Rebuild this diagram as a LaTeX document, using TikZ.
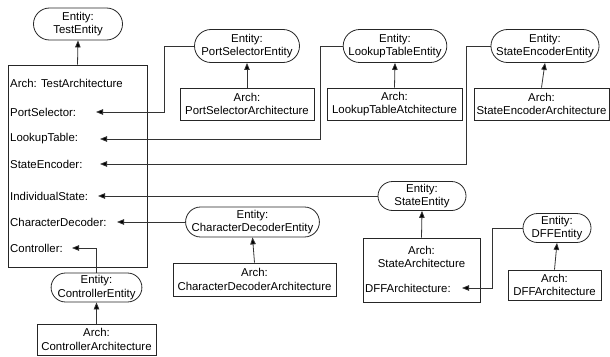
\documentclass[tikz,border=0pt]{standalone}
\usepackage{fontspec}
\setmainfont{Liberation Sans}
\usetikzlibrary{shapes.misc,arrows.meta}
\begin{document}
\begin{tikzpicture}[x=1pt,y=-1pt,
  every node/.style={font=\fontsize{11.4}{13.5}\selectfont, align=center, inner sep=0pt, text=black},
  ent/.style={draw=black!85, line width=0.8pt, rounded rectangle},
  archbox/.style={draw=black!85, line width=0.8pt, rectangle},
  lbl/.style={anchor=west},
  arr/.style={draw=black!80, line width=0.8pt, -{Triangle[length=7pt,width=5.5pt,fill=black]}}]
\useasboundingbox (0,0) rectangle (610,356);

% Test entity and architecture
\node[ent, minimum width=89, minimum height=32] (te) at (78,24) {Entity:\\TestEntity};
\node[archbox, minimum width=139, minimum height=202] (tb) at (77.5,166) {};
\node[lbl] (ta)  at (10,83)  {Arch: TestArchitecture};
\node[lbl] (ps)  at (10,112) {PortSelector:};
\node[lbl] (lt)  at (10,139) {LookupTable:};
\node[lbl] (se)  at (10,164) {StateEncoder:};
\node[lbl] (is)  at (10,196) {IndividualState:};
\node[lbl] (cd)  at (10,222) {CharacterDecoder:};
\node[lbl] (ctl) at (10,248) {Controller:};
\coordinate (psT)  at (96,112);
\coordinate (ltT)  at (100,139);
\coordinate (seT)  at (100,164);
\coordinate (isT)  at (98,196);
\coordinate (cdT)  at (117,222);
\coordinate (ctlT) at (72,248);

% Port selector
\node[ent, minimum width=105, minimum height=33] (pse) at (247,46) {Entity:\\PortSelectorEntity};
\node[archbox, minimum width=134, minimum height=32] (psa) at (247,104) {Arch:\\PortSelectorArchitecture};
% Lookup table
\node[ent, minimum width=102, minimum height=33] (lte) at (395,46) {Entity:\\LookupTableEntity};
\node[archbox, minimum width=135, minimum height=32] (lta) at (394.5,104) {Arch:\\LookupTableAtchitecture};
% State encoder
\node[ent, minimum width=106, minimum height=33] (see) at (545,46) {Entity:\\StateEncoderEntity};
\node[archbox, minimum width=135, minimum height=32] (sea) at (541.5,104) {Arch:\\StateEncoderArchitecture};
% State
\node[ent, minimum width=88, minimum height=29] (ste) at (422,196) {Entity:\\StateEntity};
\node[archbox, minimum width=117, minimum height=64] (sta) at (421.5,270) {};
\node (stn) at (421.5,257) {Arch:\\StateArchitecture};
\node[lbl] (dffl) at (365,288) {DFFArchitecture:};
\coordinate (dffT) at (462,288);
% DFF
\node[ent, minimum width=68, minimum height=29] (dffe) at (557,228) {Entity:\\DFFEntity};
\node[archbox, minimum width=93, minimum height=30] (dffa) at (554.5,285) {Arch:\\DFFArchitecture};
% Character decoder
\node[ent, minimum width=131, minimum height=30] (cde) at (252.5,222) {Entity:\\CharacterDecoderEntity};
\node[archbox, minimum width=163, minimum height=33] (cda) at (254.5,279.5) {Arch:\\CharacterDecoderArchitecture};
% Controller
\node[ent, minimum width=87, minimum height=29] (cte) at (96.5,287.5) {Entity:\\ControllerEntity};
\node[archbox, minimum width=119, minimum height=31] (cta) at (96.5,339.5) {Arch:\\ControllerArchitecture};

% connectors
\draw[arr] (tb.north) -- (te.south);
\draw[arr] (psa.north) -- (pse.south);
\draw[arr] (lta.north) -- (lte.south);
\draw[arr] (sea.north) -- (see.south);
\draw[arr] (sta.north) -- (ste.south);
\draw[arr] (dffa.north) -- (dffe.south);
\draw[arr] (cda.north) -- (cde.south);
\draw[arr] (cta.north) -- (cte.south);

\draw[arr] (pse.west) -- ++(-30,0) |- (psT);
\draw[arr] (lte.west) -- ++(-22,0) |- (ltT);
\draw[arr] (see.west) -- ++(-24,0) |- (seT);
\draw[arr] (ste.west) -- (isT);
\draw[arr] (cde.west) -- (cdT);
\draw[arr] (cte.north) |- (ctlT);
\draw[arr] (dffe.west) -- ++(-30,0) |- (dffT);
\end{tikzpicture}
\end{document}
